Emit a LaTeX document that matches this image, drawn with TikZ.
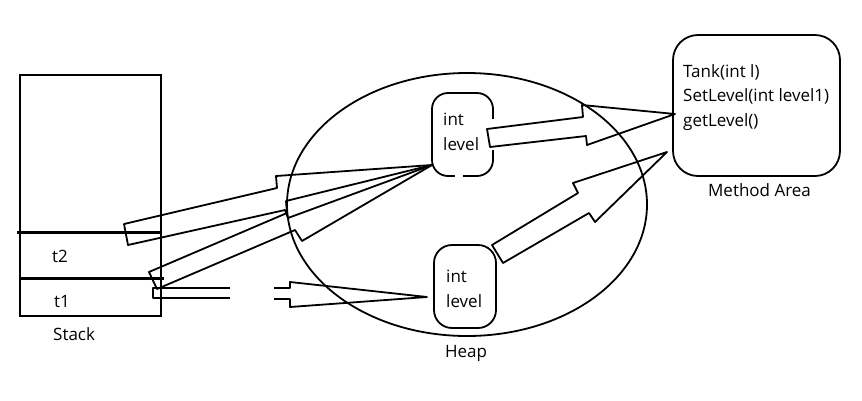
\documentclass[tikz,border=0pt]{standalone}
\usepackage{fontspec}
\setmainfont{Open Sans}
\usetikzlibrary{shapes.geometric}
\begin{document}
\begin{tikzpicture}[x=1pt,y=-1pt,
  outl/.style={draw, line width=1.8pt, inner sep=0pt},
  lbl/.style={inner sep=0pt, font=\fontsize{17}{20}\selectfont},
  blockarrow/.style={line width=1.8pt, line join=round},
  divider/.style={line width=3pt},
  gap/.style={white, line width=3.5pt}]
\useasboundingbox (0,0) rectangle (862,400);
% stack
\node[outl, minimum width=141pt, minimum height=241pt] (stack) at (90.5,195.5) {};
\draw[divider] (17,232) -- (162,232);
\draw[divider] (20,278) -- (164,278);
\node[lbl, anchor=base west] (t2) at (52,262) {t2};
\node[lbl, anchor=base west] (t1) at (54,307) {t1};
\node[lbl, anchor=base west] (stacklbl) at (53,340) {Stack};
% heap
\node[outl, ellipse, minimum width=360pt, minimum height=263pt] (heap) at (467,204.5) {};
\node[lbl, anchor=base] (heaplbl) at (466,357) {Heap};
% objects
\node[outl, rounded corners=16pt, minimum width=61pt, minimum height=83pt] (obj1) at (462.5,134.5) {};
\draw[gap] (493,119) -- (493,150);
\draw[gap] (455,176) -- (463,176);
\node[lbl, anchor=base west] (int1) at (443,125) {int};
\node[lbl, anchor=base west] (lev1) at (443,150) {level};
\node[outl, rounded corners=18pt, minimum width=62pt, minimum height=83pt] (obj2) at (465,286.5) {};
\node[lbl, anchor=base west] (int2) at (446,282) {int};
\node[lbl, anchor=base west] (lev2) at (446,307) {level};
% method area
\node[outl, rounded corners=25pt, minimum width=167pt, minimum height=141pt] (method) at (756.5,105.5) {};
\node[lbl, anchor=base west] (m1) at (683,77) {Tank(int l)};
\node[lbl, anchor=base west] (m2) at (683,101.5) {SetLevel(int level1)};
\node[lbl, anchor=base west] (m3) at (683,126) {getLevel()};
\node[lbl, anchor=base] (methodlbl) at (759.5,196) {Method Area};
% arrow tips
\coordinate (tipA) at (432,165);
\coordinate (tipC) at (427,297);
\coordinate (tipD) at (675,114);
\coordinate (tipE) at (667,152);
% block arrows
\draw[blockarrow] (124,224) -- (277,188) -- (276,176) -- (tipA) -- (288,218) -- (285,210) -- (128,245) -- cycle;
\draw[blockarrow] (149,272) -- (287,213) -- (286,201) -- (tipA) -- (302,241) -- (295,230) -- (157,289) -- cycle;
\draw[blockarrow] (230,288) -- (153,288) -- (153,298) -- (230,298);
\draw[blockarrow] (274,288) -- (290,288) -- (290,282) -- (tipC) -- (290,307) -- (290,299) -- (274,299);
\draw[blockarrow] (487,129) -- (583,117) -- (582,105) -- (tipD) -- (587,145) -- (586,136) -- (490,147) -- cycle;
\draw[blockarrow] (492,245) -- (578,193) -- (573,183) -- (tipE) -- (595,222) -- (589,213) -- (503,263) -- cycle;
\end{tikzpicture}
\end{document}
